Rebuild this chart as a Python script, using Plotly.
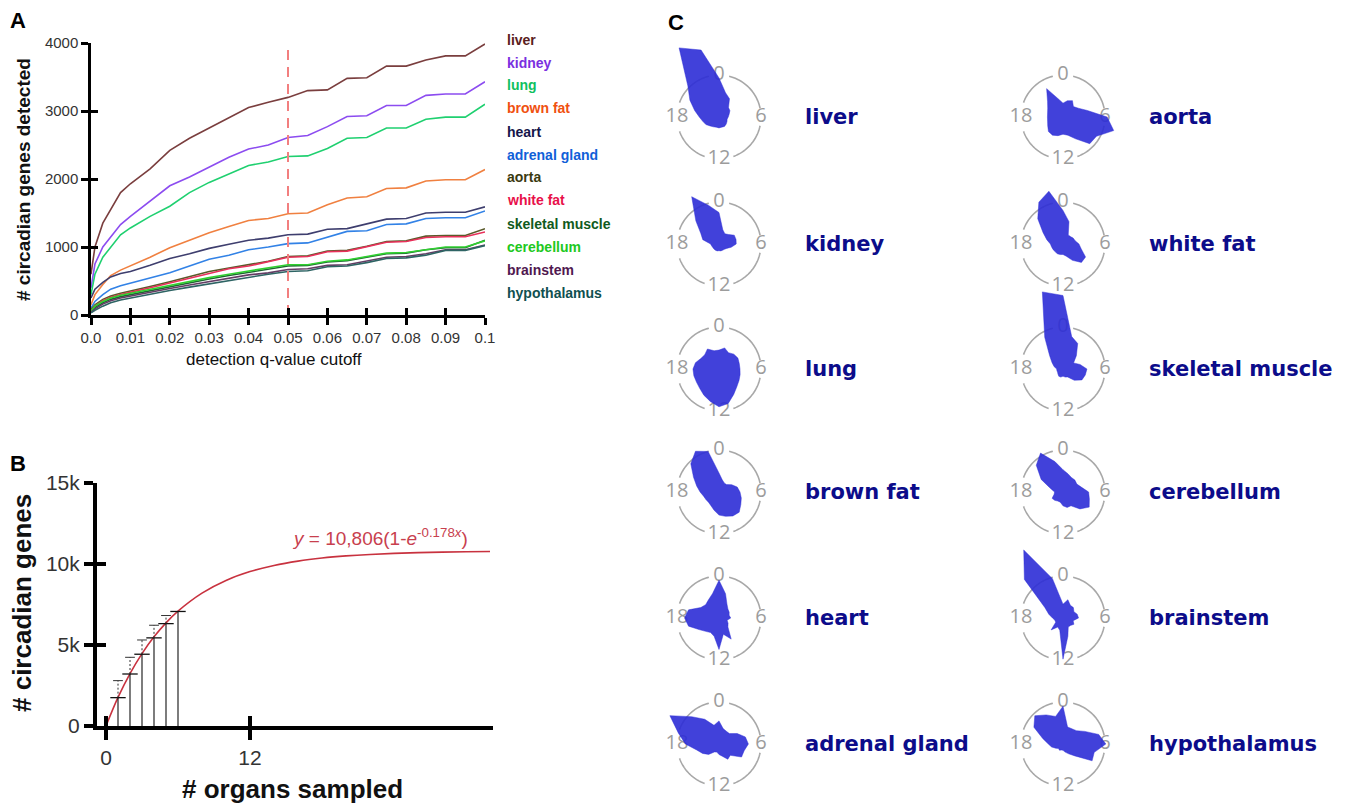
import numpy as np
import plotly.graph_objects as go

# page body margin (8 px) is compensated: figure is 8 px smaller and positions shifted
OFF = 8
W, H = 1356 - OFF, 806 - OFF
FONT = "Liberation Sans, Arial, sans-serif"

# ---------------- Panel A data ----------------
q_cutoff = [0, 0.001, 0.003, 0.005, 0.0075, 0.01, 0.015, 0.02, 0.025, 0.03, 0.035, 0.04,
            0.045, 0.05, 0.055, 0.06, 0.065, 0.07, 0.075, 0.08, 0.085, 0.09, 0.095, 0.1]
organ_names = ["liver", "kidney", "lung", "brown fat", "heart", "adrenal gland", "aorta",
               "white fat", "skeletal muscle", "cerebellum", "brainstem", "hypothalamus"]
genes_liver = [600, 1000, 1350, 1560, 1800, 1930, 2150, 2420, 2600, 2750, 2900, 3050, 3130, 3200, 3300, 3310, 3480, 3490, 3660, 3660, 3750, 3810, 3810, 3985]
genes_kidney = [400, 750, 1000, 1150, 1330, 1450, 1680, 1900, 2030, 2180, 2320, 2440, 2500, 2610, 2640, 2770, 2920, 2930, 3080, 3080, 3230, 3250, 3250, 3430]
genes_lung = [300, 600, 850, 1000, 1180, 1280, 1450, 1600, 1800, 1950, 2080, 2200, 2250, 2330, 2340, 2450, 2600, 2610, 2750, 2750, 2880, 2910, 2910, 3100]
genes_brown_fat = [150, 300, 450, 580, 660, 720, 850, 990, 1100, 1210, 1300, 1390, 1420, 1490, 1500, 1620, 1720, 1740, 1860, 1870, 1970, 1990, 1990, 2140]
genes_heart = [250, 380, 480, 560, 610, 640, 730, 830, 900, 980, 1040, 1100, 1130, 1180, 1190, 1260, 1270, 1340, 1410, 1420, 1500, 1510, 1510, 1590]
genes_adrenal = [100, 200, 300, 380, 430, 470, 540, 620, 720, 820, 880, 960, 1000, 1050, 1060, 1140, 1230, 1240, 1330, 1340, 1420, 1430, 1430, 1530]
genes_aorta = [80, 150, 230, 280, 320, 350, 420, 490, 560, 640, 690, 740, 790, 860, 870, 940, 950, 1010, 1080, 1090, 1160, 1170, 1170, 1270]
genes_white_fat = [60, 130, 210, 260, 300, 330, 400, 470, 540, 620, 680, 720, 780, 850, 860, 930, 940, 1000, 1070, 1080, 1140, 1150, 1150, 1220]
genes_skeletal = [50, 110, 180, 230, 270, 300, 350, 410, 470, 530, 580, 630, 670, 720, 730, 780, 800, 850, 900, 910, 960, 990, 990, 1100]
genes_cerebellum = [60, 130, 200, 250, 290, 320, 380, 440, 500, 550, 600, 650, 690, 740, 740, 790, 810, 860, 910, 920, 960, 1000, 1000, 1090]
genes_brainstem = [40, 90, 160, 210, 250, 280, 330, 390, 440, 490, 540, 590, 620, 670, 680, 730, 740, 790, 850, 860, 900, 960, 960, 1030]
genes_hypothalamus = [30, 70, 130, 180, 220, 250, 300, 360, 410, 460, 510, 560, 600, 640, 650, 710, 720, 770, 830, 840, 880, 950, 950, 1020]
line_colors = ["#7a3e3e", "#8c4cf0", "#1fd070", "#f08040", "#3e3e6e", "#3282e6",
               "#5a5a2a", "#e8305a", "#1e6432", "#30d030", "#643c64", "#2e6464"]
label_colors = ["#5a2020", "#7a30e0", "#10c060", "#f05010", "#15154a", "#1060d8",
                "#3a3a10", "#e8104a", "#105a20", "#20c820", "#501850", "#105050"]
q_reference = 0.05
a_xticks = [0, 0.01, 0.02, 0.03, 0.04, 0.05, 0.06, 0.07, 0.08, 0.09, 0.1]
a_xticktext = ["0.0", "0.01", "0.02", "0.03", "0.04", "0.05", "0.06", "0.07", "0.08", "0.09", "0.1"]
a_yticks = [0, 1000, 2000, 3000, 4000]

# ---------------- Panel B data ----------------
organs_sampled = [1, 2, 3, 4, 5, 6]
mean_genes = [1750, 3210, 4430, 5440, 6320, 7070]
upper_genes = [2800, 4240, 5310, 6220, 6820, 7070]
fit_x = [0, 1, 2, 3, 4, 5, 6, 8, 10, 12, 14, 16, 18, 20, 22, 24, 26, 28, 30, 32]
fit_y = [0, 1763, 3237, 4471, 5503, 6368, 7092, 8204, 8984, 9530, 9912, 10179, 10367,
         10499, 10591, 10655, 10700, 10732, 10754, 10770]
b_yticks = [0, 5000, 10000, 15000]
b_yticktext = ["0", "5k", "10k", "15k"]
b_xticks = [0, 12]

# ---------------- Panel C data (phase distributions, r in units of clock radius) ----------------
clock_hours = list(range(24))
rose_liver = [0.93, 0.6, 0.5, 0.32, 0.3, 0.25, 0.22, 0.2, 0.22, 0.24, 0.26, 0.25, 0.26, 0.25, 0.27, 0.3, 0.36, 0.4, 0.47, 0.6, 0.8, 1.05, 1.9, 1.65]
rose_kidney = [0.75, 0.35, 0.28, 0.32, 0.42, 0.42, 0.41, 0.3, 0.21, 0.18, 0.17, 0.17, 0.16, 0.17, 0.17, 0.17, 0.17, 0.18, 0.2, 0.4, 0.5, 0.78, 1.3, 0.95]
rose_lung = [0.45, 0.52, 0.45, 0.5, 0.52, 0.5, 0.5, 0.52, 0.55, 0.6, 0.7, 0.85, 0.9, 0.8, 0.72, 0.65, 0.62, 0.62, 0.62, 0.58, 0.5, 0.48, 0.55, 0.45]
rose_brown_fat = [0.45, 0.3, 0.25, 0.25, 0.35, 0.45, 0.5, 0.55, 0.6, 0.68, 0.66, 0.6, 0.55, 0.45, 0.38, 0.35, 0.36, 0.38, 0.45, 0.55, 0.7, 0.95, 1.12, 1.0]
rose_heart = [0.9, 0.6, 0.38, 0.3, 0.28, 0.25, 0.28, 0.2, 0.25, 0.3, 0.58, 0.4, 0.75, 0.45, 0.4, 0.45, 0.55, 0.75, 0.82, 0.75, 0.5, 0.45, 0.5, 0.6]
rose_adrenal = [0.55, 0.38, 0.35, 0.35, 0.5, 0.65, 0.7, 0.62, 0.62, 0.38, 0.42, 0.3, 0.25, 0.2, 0.22, 0.35, 0.45, 0.55, 0.8, 1.0, 1.35, 0.92, 0.68, 0.46]
rose_aorta = [0.33, 0.4, 0.45, 0.35, 0.42, 0.6, 1.05, 1.25, 0.92, 0.9, 0.6, 0.45, 0.41, 0.46, 0.5, 0.49, 0.42, 0.38, 0.37, 0.38, 0.42, 0.52, 0.78, 0.45]
rose_white_fat = [0.8, 0.55, 0.25, 0.25, 0.28, 0.3, 0.38, 0.45, 0.62, 0.62, 0.45, 0.3, 0.25, 0.26, 0.27, 0.26, 0.27, 0.28, 0.3, 0.4, 0.55, 0.85, 1.15, 1.3]
rose_skeletal = [1.75, 0.8, 0.7, 0.45, 0.29, 0.42, 0.57, 0.55, 0.52, 0.38, 0.22, 0.2, 0.17, 0.2, 0.2, 0.17, 0.15, 0.15, 0.15, 0.22, 0.3, 0.45, 0.87, 1.9]
rose_cerebellum = [0.53, 0.45, 0.4, 0.4, 0.38, 0.45, 0.61, 0.65, 0.72, 0.57, 0.38, 0.38, 0.33, 0.25, 0.25, 0.28, 0.3, 0.22, 0.2, 0.3, 0.6, 0.9, 1.07, 0.75]
rose_brainstem = [0.33, 0.45, 0.35, 0.35, 0.3, 0.35, 0.37, 0.25, 0.3, 0.25, 0.25, 0.45, 0.98, 0.3, 0.25, 0.4, 0.2, 0.2, 0.25, 0.35, 0.5, 1.3, 1.87, 0.97]
rose_hypothalamus = [0.9, 0.42, 0.42, 0.45, 0.6, 0.88, 1.02, 0.77, 0.8, 0.4, 0.27, 0.2, 0.15, 0.15, 0.17, 0.15, 0.2, 0.28, 0.35, 0.5, 0.8, 0.95, 0.8, 0.68]
rose_names = ["liver", "kidney", "lung", "brown fat", "heart", "adrenal gland",
              "aorta", "white fat", "skeletal muscle", "cerebellum", "brainstem", "hypothalamus"]
clock_labels = ["0", "6", "12", "18"]
clock_label_hours = [0, 6, 12, 18]

series_a = [genes_liver, genes_kidney, genes_lung, genes_brown_fat, genes_heart, genes_adrenal,
            genes_aorta, genes_white_fat, genes_skeletal, genes_cerebellum, genes_brainstem,
            genes_hypothalamus]
roses = [rose_liver, rose_kidney, rose_lung, rose_brown_fat, rose_heart, rose_adrenal,
         rose_aorta, rose_white_fat, rose_skeletal, rose_cerebellum, rose_brainstem,
         rose_hypothalamus]


def fx(px):
    return (px - OFF) / W


def fy(py):
    return 1 - (py - OFF) / H


fig = go.Figure()

# ---- Panel A lines
for name, vals, col in zip(organ_names, series_a, line_colors):
    fig.add_trace(go.Scatter(x=q_cutoff, y=vals, mode="lines", name=name,
                             line=dict(color=col, width=1.6), xaxis="x", yaxis="y",
                             showlegend=False, hoverinfo="skip"))
fig.add_trace(go.Scatter(x=[q_reference, q_reference], y=[0, a_yticks[-1]], mode="lines",
                         line=dict(color="#f27f7f", width=2, dash="10px,7px"),
                         xaxis="x", yaxis="y", showlegend=False, hoverinfo="skip"))
fig.add_trace(go.Scatter(x=[0], y=[0], mode="markers", marker=dict(opacity=0),
                         xaxis="x3", yaxis="y3", showlegend=False, hoverinfo="skip"))

# ---- Panel B
fig.add_trace(go.Scatter(x=fit_x, y=fit_y, mode="lines", line=dict(color="#c8323f", width=1.6,
                         shape="spline"), xaxis="x2", yaxis="y2", showlegend=False,
                         hoverinfo="skip"))
vx, vy, dx, dy, cx_up, cy_up = [], [], [], [], [], []
for xo, m, u in zip(organs_sampled, mean_genes, upper_genes):
    vx += [xo, xo, None]
    vy += [0, m, None]
    if u > m:
        dx += [xo, xo, None]
        dy += [m, u, None]
        cx_up.append(xo)
        cy_up.append(u)
fig.add_trace(go.Scatter(x=vx, y=vy, mode="lines", line=dict(color="#111", width=1.1),
                         xaxis="x2", yaxis="y2", showlegend=False, hoverinfo="skip"))
fig.add_trace(go.Scatter(x=organs_sampled, y=mean_genes, mode="markers",
                         marker=dict(symbol="line-ew", size=11, line=dict(color="#111", width=1.3)),
                         xaxis="x2", yaxis="y2", showlegend=False, hoverinfo="skip"))
fig.add_trace(go.Scatter(x=dx, y=dy, mode="lines", line=dict(color="#333", width=1, dash="2px,2px"),
                         xaxis="x2", yaxis="y2", showlegend=False, hoverinfo="skip"))
fig.add_trace(go.Scatter(x=cx_up, y=cy_up, mode="markers",
                         marker=dict(symbol="line-ew", size=7, line=dict(color="#333", width=1)),
                         xaxis="x2", yaxis="y2", showlegend=False, hoverinfo="skip"))
fig.add_trace(go.Scatter(x=[0], y=[0], mode="markers", marker=dict(opacity=0),
                         xaxis="x4", yaxis="y4", showlegend=False, hoverinfo="skip"))

# ---- Panel C roses
UNIT = 42.0
col_cx = [719, 1063]
row_cy = [117, 244, 369, 492, 618, 744]
arc_ranges = [(14, 78), (102, 160), (200, 250), (290, 346)]
arc_t, arc_r = [], []
for a0, a1 in arc_ranges:
    t = np.linspace(a0, a1, 30)
    arc_t += list(t) + [None]
    arc_r += [1.0] * len(t) + [None]

annotations = []
layout_polars = {}
for k, (nm, r) in enumerate(zip(rose_names, roses)):
    col, row = k // 6, k % 6
    cx, cy = col_cx[col], row_cy[row]
    rmax = max(max(r) * 1.04, 1.25)
    R = rmax * UNIT
    pname = "polar" if k == 0 else f"polar{k + 1}"
    layout_polars[pname] = dict(
        domain=dict(x=[fx(cx - R), fx(cx + R)], y=[fy(cy + R), fy(cy - R)]),
        bgcolor="rgba(0,0,0,0)",
        radialaxis=dict(visible=False, range=[0, rmax]),
        angularaxis=dict(visible=False, rotation=90, direction="clockwise"),
    )
    fig.add_trace(go.Scatterpolar(r=arc_r, theta=arc_t, mode="lines",
                                  line=dict(color="#a8a8a8", width=1.6), subplot=pname,
                                  showlegend=False, hoverinfo="skip"))
    fig.add_trace(go.Scatterpolar(r=[1.0] * 4, theta=[h * 15 for h in clock_label_hours],
                                  text=clock_labels, mode="text", cliponaxis=False,
                                  textfont=dict(family="Open Sans, sans-serif", size=20,
                                                color="#9c9c9c"),
                                  subplot=pname, showlegend=False, hoverinfo="skip"))
    fig.add_trace(go.Scatterpolar(r=r + [r[0]], theta=[h * 15 for h in clock_hours] + [0],
                                  mode="lines", fill="toself",
                                  fillcolor="rgba(44,44,214,0.9)",
                                  line=dict(color="rgba(44,44,214,0.9)", width=0.5),
                                  subplot=pname, showlegend=False, hoverinfo="skip"))
    annotations.append(dict(text=f"<b>{nm}</b>", x=fx(cx + 84), y=fy(cy),
                            xanchor="left", yanchor="middle",
                            font=dict(family="DejaVu Sans, sans-serif", size=21,
                                      color="#0c0c8a")))

# ---- Panel A legend labels
for i, (nm, c) in enumerate(zip(organ_names, label_colors)):
    annotations.append(dict(text=f"<b>{nm}</b>", x=fx(505), y=fy(39.5 + 23.0 * i),
                            xanchor="left", yanchor="middle",
                            font=dict(family=FONT, size=14, color=c)))

# axis titles & panel letters
annotations += [
    dict(text="<b># circadian genes detected</b>", x=fx(23), y=fy(180), textangle=-90,
         xanchor="center", yanchor="middle", font=dict(family=FONT, size=19, color="#111")),
    dict(text="detection q-value cutoff", x=fx(274), y=fy(359),
         xanchor="center", yanchor="middle", font=dict(family=FONT, size=17, color="#111")),
    dict(text="<b># circadian genes</b>", x=fx(22), y=fy(603), textangle=-90,
         xanchor="center", yanchor="middle", font=dict(family=FONT, size=26, color="#111")),
    dict(text="<b># organs sampled</b>", x=fx(292), y=fy(789),
         xanchor="center", yanchor="middle", font=dict(family=FONT, size=26, color="#111")),
    dict(text="<i>y</i> = 10,806(1-<i>e</i><sup>-0.178<i>x</i></sup>)", x=fx(290), y=fy(537),
         xanchor="left", yanchor="middle", font=dict(family=FONT, size=19, color="#c8404e")),
    dict(text="<b>A</b>", x=fx(18), y=fy(21), xanchor="center", yanchor="middle",
         font=dict(family=FONT, size=22, color="black")),
    dict(text="<b>B</b>", x=fx(18), y=fy(463), xanchor="center", yanchor="middle",
         font=dict(family=FONT, size=22, color="black")),
    dict(text="<b>C</b>", x=fx(676), y=fy(22), xanchor="center", yanchor="middle",
         font=dict(family=FONT, size=22, color="black")),
]
for a in annotations:
    a.update(xref="paper", yref="paper", showarrow=False)

tickA = dict(showgrid=False, zeroline=False)
fig.update_layout(
    width=W, height=H, margin=dict(l=0, r=0, t=0, b=0, pad=0, autoexpand=False),
    paper_bgcolor="white", plot_bgcolor="rgba(0,0,0,0)",
    showlegend=False,
    xaxis=dict(domain=[fx(91), fx(485)], range=[0, 0.1], anchor="y", showline=True,
               linewidth=2.5, linecolor="black", ticks="outside", ticklen=7, tickwidth=2.5,
               tickcolor="black", tickmode="array", tickvals=a_xticks, ticktext=a_xticktext,
               tickfont=dict(family=FONT, size=15, color="#333"), **tickA),
    yaxis=dict(domain=[fy(315), fy(43)], range=[0, 4000], anchor="x", showline=True,
               linewidth=2.5, linecolor="black", ticks="outside", ticklen=7, tickwidth=2.5,
               tickcolor="black", tickmode="array", tickvals=a_yticks,
               tickfont=dict(family=FONT, size=15, color="#333"), **tickA),
    xaxis3=dict(overlaying="x", anchor="y", range=[0, 0.1], ticks="inside", ticklen=7,
                tickwidth=2.5, tickcolor="black", tickmode="array", tickvals=a_xticks,
                showticklabels=False, showline=False, **tickA),
    yaxis3=dict(overlaying="y", anchor="x", range=[0, 4000], ticks="inside", ticklen=7,
                tickwidth=2.5, tickcolor="black", tickmode="array", tickvals=a_yticks,
                showticklabels=False, showline=False, **tickA),
    xaxis2=dict(domain=[fx(97), fx(493)], range=[-0.75, 32.25], anchor="y2", showline=True,
                linewidth=4, linecolor="black", ticks="outside", ticklen=10, tickwidth=4,
                tickcolor="black", tickmode="array", tickvals=b_xticks,
                tickfont=dict(family=FONT, size=21, color="#333"), **tickA),
    yaxis2=dict(domain=[fy(726), fy(483)], range=[0, 15000], anchor="x2", showline=True,
                linewidth=4, linecolor="black", ticks="outside", ticklen=9, tickwidth=4,
                tickcolor="black", tickmode="array", tickvals=b_yticks, ticktext=b_yticktext,
                tickfont=dict(family=FONT, size=21, color="#333"), **tickA),
    xaxis4=dict(overlaying="x2", anchor="y2", range=[-0.75, 32.25], ticks="inside",
                ticklen=10, tickwidth=4, tickcolor="black", tickmode="array",
                tickvals=b_xticks, showticklabels=False, showline=False, **tickA),
    yaxis4=dict(overlaying="y2", anchor="x2", range=[0, 15000], ticks="inside", ticklen=9,
                tickwidth=4, tickcolor="black", tickmode="array", tickvals=b_yticks,
                showticklabels=False, showline=False, **tickA),
    annotations=annotations,
    **layout_polars,
)

fig.write_html("out.html")
